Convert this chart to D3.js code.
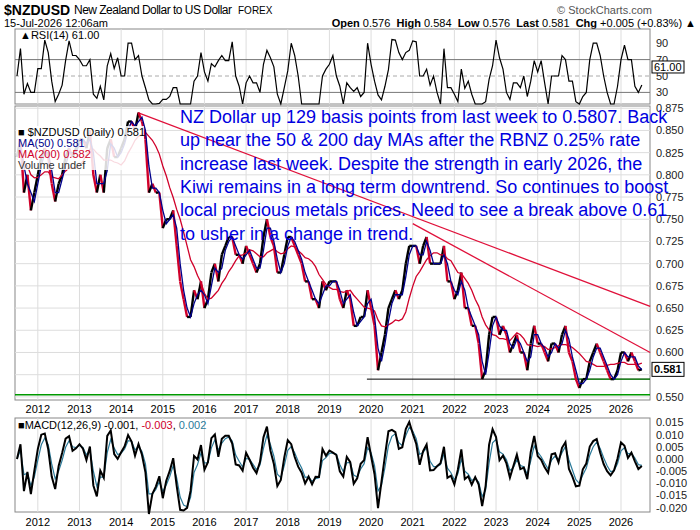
<!DOCTYPE html>
<html><head><meta charset="utf-8">
<script src="https://cdn.jsdelivr.net/npm/d3@7"></script>
<style>body{margin:0;background:#fff}text{font-family:Arial,"Liberation Sans",sans-serif}</style>
</head><body><svg id="chart"></svg>
<script>
// monthly closes, Jul 2011 .. Jul 2026
var startYear = 2011.5;
var closes = [
  0.82,0.84,0.78,0.80,0.76,0.78,
  0.80,0.82,0.83,0.82,0.79,0.77,0.79,0.80,0.82,0.83,0.82,0.83,
  0.84,0.84,0.83,0.85,0.80,0.78,0.80,0.78,0.83,0.84,0.82,0.82,
  0.83,0.84,0.86,0.86,0.85,0.87,0.86,0.84,0.78,0.79,0.78,0.78,
  0.74,0.75,0.75,0.76,0.72,0.68,0.66,0.64,0.64,0.67,0.66,0.68,
  0.65,0.66,0.69,0.70,0.68,0.71,0.72,0.73,0.73,0.71,0.71,0.70,
  0.72,0.71,0.70,0.69,0.70,0.73,0.75,0.73,0.72,0.69,0.69,0.71,
  0.73,0.73,0.72,0.71,0.70,0.68,0.68,0.66,0.66,0.65,0.68,0.67,
  0.68,0.68,0.68,0.66,0.65,0.67,0.66,0.63,0.63,0.64,0.64,0.67,
  0.65,0.63,0.58,0.60,0.62,0.65,0.66,0.67,0.66,0.67,0.70,0.72,
  0.72,0.72,0.70,0.72,0.73,0.70,0.70,0.70,0.70,0.72,0.68,0.68,
  0.66,0.67,0.69,0.65,0.65,0.63,0.63,0.61,0.57,0.58,0.62,0.64,
  0.64,0.62,0.63,0.62,0.60,0.61,0.62,0.60,0.60,0.58,0.61,0.63,
  0.61,0.61,0.60,0.59,0.61,0.61,0.60,0.62,0.63,0.60,0.59,0.57,
  0.56,0.57,0.57,0.59,0.60,0.61,0.60,0.59,0.58,0.57,0.57,0.58,
  0.60,0.60,0.59,0.60,0.59,0.58,0.581
];
var years = [2012,2013,2014,2015,2016,2017,2018,2019,2020,2021,2022,2023,2024,2025,2026];
var priceTicks = [0.550,0.575,0.600,0.625,0.650,0.675,0.700,0.725,0.750,0.775,0.800,0.825,0.850];
var rsiTicks = [30,50,70,90];
var macdTicks = [-0.020,-0.015,-0.010,-0.005,0.000,0.005,0.010,0.015];
var trendLines = [[2014.4,0.870,2026.7,0.652],[2021.0,0.745,2026.7,0.600]];
var noteLines = [
  "NZ Dollar up 129 basis points from last week to 0.5807. Back",
  "up near the 50 & 200 day MAs after the RBNZ 0.25% rate",
  "increase last week. Despite the strength in early 2026, the",
  "Kiwi remains in a long term downtrend. So continues to boost",
  "local precious metals prices. Need to see a break above 0.61",
  "to usher in a change in trend."
];

var data = closes.map(function(c,i){return {t:startYear+i/12, v:c};});
function sma(n){return data.map(function(d,i){var s=data.slice(Math.max(0,i-n+1),i+1);return d3.mean(s,function(e){return e.v;});});}
function ema(arr,a){var out=[],p=arr[0];arr.forEach(function(v){p=a*v+(1-a)*p;out.push(p);});return out;}
var ma50 = sma(2), ma200 = sma(9);
var vals = closes;
var macd = d3.zip(ema(vals,0.75),ema(vals,0.45)).map(function(p){return p[0]-p[1];});
var signal = ema(macd,0.6);
var rsi = vals.map(function(v,i){
  var g=0.005,l=0.005;
  for(var k=Math.max(1,i-3);k<=i;k++){var d=vals[k]-vals[k-1];if(d>0)g+=d;else l-=d;}
  return 100*g/(g+l);
});

var svg = d3.select('#chart').attr('width',700).attr('height',530);
var L=15,R=650;
var x = d3.scaleLinear().domain([startYear,2026.6]).range([L+2,R-4]);
var yP = d3.scaleLinear().domain([0.5465,0.8775]).range([400,106]);
var yR = d3.scaleLinear().domain([0,100]).range([117,35]);
var yM = d3.scaleLinear().domain([-0.0218,0.0168]).range([512,418]);

// header
svg.append('text').attr('x',4).attr('y',15).attr('font-size',14).attr('font-weight','bold').text('$NZDUSD');
svg.append('text').attr('x',74).attr('y',14).attr('font-size',12).attr('textLength',158).text('New Zealand Dollar to US Dollar');
svg.append('text').attr('x',238).attr('y',14).attr('font-size',10).text('FOREX');
svg.append('text').attr('x',652).attr('y',14).attr('font-size',11).attr('fill','#555').attr('text-anchor','end').text('© StockCharts.com');
svg.append('text').attr('x',4).attr('y',27).attr('font-size',11).text('15-Jul-2026 12:06am');
var hdr = svg.append('text').attr('x',696).attr('y',27).attr('font-size',11).attr('text-anchor','end');
[['Open',' 0.576  '],['High',' 0.584  '],['Low',' 0.576  '],['Last',' 0.581  '],['Chg',' +0.005 (+0.83%) ▲']].forEach(function(p){
  hdr.append('tspan').attr('font-weight','bold').text(p[0]);
  hdr.append('tspan').attr('xml:space','preserve').text(p[1]);
});

function panel(y0,y1){
  svg.append('rect').attr('x',L).attr('y',y0).attr('width',R-L).attr('height',y1-y0).attr('fill','none').attr('stroke','#888');
  years.forEach(function(yr){
    svg.append('line').attr('x1',x(yr)).attr('x2',x(yr)).attr('y1',y0).attr('y2',y1).attr('stroke','#ddd');
  });
}

// RSI panel
panel(29,104);
[30,50,70].forEach(function(v){
  svg.append('line').attr('x1',L).attr('x2',R).attr('y1',yR(v)).attr('y2',yR(v)).attr('stroke',v==50?'#aaa':'#777').attr('stroke-dasharray',v==50?'4,3':null);
});
svg.append('path').datum(rsi).attr('fill','none').attr('stroke','#000').attr('stroke-width',1.2)
  .attr('d',d3.line().x(function(d,i){return x(data[i].t);}).y(function(d){return Math.min(104,yR(d));}));
rsiTicks.forEach(function(v){svg.append('text').attr('x',656).attr('y',yR(v)+4).attr('font-size',11).attr('fill','#222').text(v);});
svg.append('text').attr('x',20).attr('y',39).attr('font-size',11).text('▲RSI(14) 61.00');
svg.append('rect').attr('x',652).attr('y',yR(61)-6).attr('width',32).attr('height',12).attr('fill','#fff').attr('stroke','#000');
svg.append('text').attr('x',654).attr('y',yR(61)+4).attr('font-size',11).text('61.00');

// main price panel
panel(106,400);
priceTicks.concat([0.875]).forEach(function(v){
  svg.append('line').attr('x1',L).attr('x2',R).attr('y1',yP(v)).attr('y2',yP(v)).attr('stroke','#ddd');
  if(v!=0.575) svg.append('text').attr('x',656).attr('y',yP(v)+4).attr('font-size',11).attr('fill','#222').text(v.toFixed(3));
});
svg.append('line').attr('x1',x(2019.9)).attr('x2',R).attr('y1',yP(0.570)).attr('y2',yP(0.570)).attr('stroke','#000');
svg.append('line').attr('x1',x(2024.8)).attr('x2',R).attr('y1',yP(0.570)).attr('y2',yP(0.570)).attr('stroke','#090');
svg.append('line').attr('x1',L).attr('x2',R).attr('y1',yP(0.5525)).attr('y2',yP(0.5525)).attr('stroke','#090').attr('stroke-width',1.5);
trendLines.forEach(function(t){
  svg.append('line').attr('x1',x(t[0])).attr('y1',yP(t[1])).attr('x2',x(t[2])).attr('y2',yP(t[3])).attr('stroke','#e0103a').attr('stroke-width',1.3);
});
data.forEach(function(d,i){
  if(!i) return;
  svg.append('line').attr('x1',x(data[i-1].t)).attr('y1',yP(data[i-1].v)).attr('x2',x(d.t)).attr('y2',yP(d.v))
    .attr('stroke',d.v>=data[i-1].v?'#000':'#d0002a').attr('stroke-width',2.4);
});
svg.append('path').datum(ma200).attr('fill','none').attr('stroke','#d0002a').attr('stroke-width',1.3)
  .attr('d',d3.line().x(function(d,i){return x(data[i].t);}).y(function(d){return yP(d);}));
svg.append('path').datum(ma50).attr('fill','none').attr('stroke','#00008b').attr('stroke-width',1.3)
  .attr('d',d3.line().x(function(d,i){return x(data[i].t);}).y(function(d){return yP(d);}));
svg.append('rect').attr('x',652).attr('y',yP(0.581)-7).attr('width',32).attr('height',14).attr('fill','#fff').attr('stroke','#000');
svg.append('text').attr('x',654).attr('y',yP(0.581)+4).attr('font-size',11).attr('font-weight','bold').text('0.581');
var leg=[['■ $NZDUSD (Daily) 0.581','#000'],['MA(50) 0.581','#00008b'],['MA(200) 0.582','#d0002a'],['Volume undef','#333']];
svg.append('rect').attr('x',16).attr('y',126).attr('width',128).attr('height',44).attr('fill','#fff').attr('opacity',0.85);
leg.forEach(function(l,i){svg.append('text').attr('x',18).attr('y',136+i*11).attr('font-size',11).attr('fill',l[1]).text(l[0]);});
years.forEach(function(yr){
  svg.append('text').attr('x',x(yr)).attr('y',413).attr('font-size',11).attr('text-anchor','middle').text(yr);
  svg.append('text').attr('x',x(yr)).attr('y',526).attr('font-size',11).attr('text-anchor','middle').text(yr);
});
noteLines.forEach(function(s,i){
  svg.append('text').attr('x',180).attr('y',123+i*23.3).attr('font-size',18).attr('fill','#0000e0').text(s);
});

// MACD panel
panel(418,512);
macdTicks.forEach(function(v){
  svg.append('text').attr('x',656).attr('y',yM(v)+4).attr('font-size',11).attr('fill','#222').text(v.toFixed(3));
});
svg.append('path').datum(signal).attr('fill','none').attr('stroke','#2a7a9a').attr('stroke-width',1.2)
  .attr('d',d3.line().x(function(d,i){return x(data[i].t);}).y(function(d){return yM(d);}));
svg.append('path').datum(macd).attr('fill','none').attr('stroke','#000').attr('stroke-width',2)
  .attr('d',d3.line().x(function(d,i){return x(data[i].t);}).y(function(d){return yM(d);}));
var mt = svg.append('text').attr('x',18).attr('y',429).attr('font-size',11);
mt.append('tspan').text('■MACD(12,26,9) -0.001, ');
mt.append('tspan').attr('fill','#d0002a').text('-0.003');
mt.append('tspan').text(', ');
mt.append('tspan').attr('fill','#2a7a9a').text('0.002');
</script></body></html>
